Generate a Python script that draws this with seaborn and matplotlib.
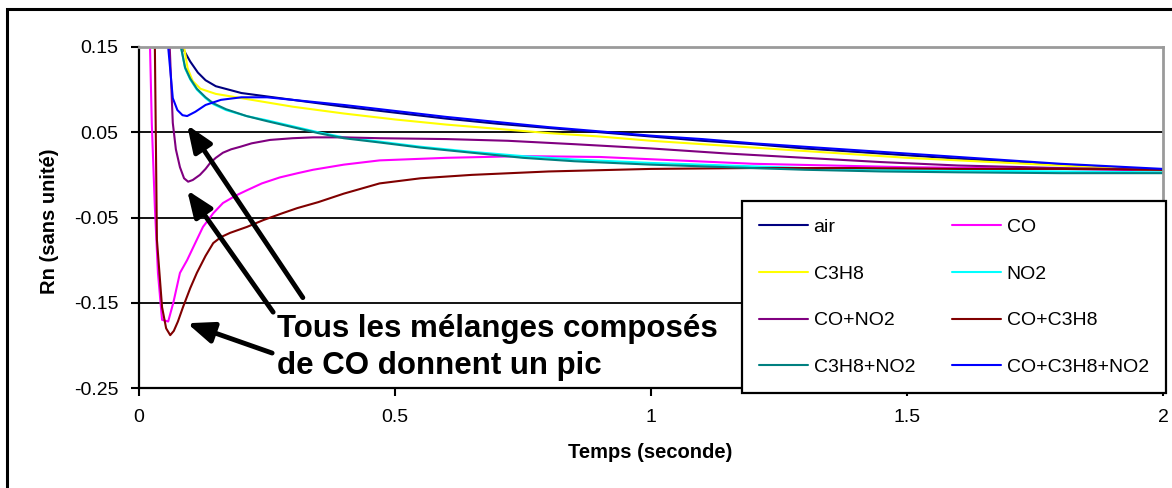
import pandas as pd
import matplotlib
matplotlib.use("Agg")
import matplotlib.pyplot as plt
import matplotlib.patches as mpatches
import seaborn as sns

# Rn (sans unité) en fonction du temps (s)
t_air = [0.075, 0.084, 0.1, 0.115, 0.13, 0.15, 0.2, 0.25, 0.3, 0.4, 0.5, 0.6, 0.7, 0.8, 0.9,
         1.0, 1.1, 1.2, 1.3, 1.4, 1.5, 1.6, 1.7, 1.8, 1.9, 2.0]
rn_air = [0.25, 0.15, 0.133, 0.12, 0.111, 0.104, 0.096, 0.092, 0.088, 0.080, 0.073, 0.066, 0.060,
          0.055, 0.050, 0.045, 0.040, 0.036, 0.031, 0.027, 0.023, 0.019, 0.016, 0.012, 0.009, 0.006]

t_co = [0.018, 0.0215, 0.025, 0.031, 0.037, 0.045, 0.057, 0.067, 0.08, 0.094, 0.113, 0.125, 0.145,
        0.164, 0.19, 0.211, 0.24, 0.275, 0.31, 0.34, 0.4, 0.47, 0.6, 0.75, 0.9, 1.05, 1.2, 1.35,
        1.5, 1.65, 1.8, 2.0]
rn_co = [0.3, 0.15, 0.06, -0.038, -0.115, -0.17, -0.172, -0.15, -0.115, -0.100, -0.076, -0.061,
         -0.045, -0.033, -0.024, -0.018, -0.010, -0.003, 0.002, 0.006, 0.012, 0.017, 0.020, 0.022,
         0.021, 0.017, 0.013, 0.011, 0.009, 0.008, 0.007, 0.005]

t_c3h8 = [0.08, 0.088, 0.095, 0.105, 0.12, 0.15, 0.2, 0.25, 0.3, 0.4, 0.5, 0.6, 0.7, 0.8, 0.9,
          1.0, 1.1, 1.2, 1.3, 1.4, 1.5, 1.6, 1.7, 1.8, 1.9, 2.0]
rn_c3h8 = [0.22, 0.15, 0.125, 0.110, 0.101, 0.095, 0.090, 0.085, 0.080, 0.072, 0.065, 0.059, 0.054,
           0.049, 0.045, 0.040, 0.036, 0.032, 0.028, 0.024, 0.020, 0.017, 0.014, 0.011, 0.008, 0.005]

t_no2 = [0.075, 0.082, 0.09, 0.1, 0.113, 0.13, 0.145, 0.17, 0.21, 0.25, 0.3, 0.35, 0.4, 0.47, 0.55,
         0.65, 0.75, 0.85, 1.0, 1.15, 1.3, 1.45, 1.6, 1.8, 2.0]
rn_no2 = [0.22, 0.15, 0.125, 0.112, 0.100, 0.090, 0.083, 0.076, 0.069, 0.064, 0.057, 0.050, 0.044,
          0.039, 0.033, 0.027, 0.022, 0.018, 0.014, 0.011, 0.008, 0.006, 0.005, 0.004, 0.003]

t_co_no2 = [0.055, 0.06, 0.066, 0.072, 0.08, 0.088, 0.096, 0.105, 0.119, 0.13, 0.139, 0.15, 0.164,
            0.18, 0.198, 0.22, 0.256, 0.3, 0.34, 0.4, 0.47, 0.6, 0.72, 0.85, 1.0, 1.15, 1.3, 1.45,
            1.6, 1.8, 2.0]
rn_co_no2 = [0.3, 0.15, 0.061, 0.03, 0.009, -0.004, -0.008, -0.006, 0.0, 0.007, 0.014, 0.020, 0.026,
             0.030, 0.033, 0.037, 0.041, 0.043, 0.044, 0.044, 0.043, 0.042, 0.040, 0.036, 0.031,
             0.025, 0.020, 0.015, 0.011, 0.008, 0.006]

t_co_c3h8 = [0.028, 0.031, 0.035, 0.045, 0.053, 0.061, 0.068, 0.076, 0.086, 0.1, 0.113, 0.13, 0.145,
             0.16, 0.178, 0.211, 0.243, 0.28, 0.309, 0.35, 0.4, 0.47, 0.55, 0.65, 0.8, 1.0, 1.2,
             1.4, 1.6, 1.8, 2.0]
rn_co_c3h8 = [0.25, 0.15, -0.076, -0.155, -0.18, -0.188, -0.183, -0.172, -0.155, -0.133, -0.115,
              -0.095, -0.080, -0.073, -0.068, -0.061, -0.053, -0.045, -0.039, -0.032, -0.022,
              -0.010, -0.004, 0.000, 0.004, 0.007, 0.008, 0.008, 0.007, 0.007, 0.006]

t_c3h8_no2 = [0.075, 0.082, 0.09, 0.1, 0.113, 0.13, 0.145, 0.17, 0.21, 0.25, 0.3, 0.35, 0.4, 0.47,
              0.55, 0.65, 0.75, 0.85, 1.0, 1.15, 1.3, 1.45, 1.6, 1.8, 2.0]
rn_c3h8_no2 = [0.22, 0.15, 0.126, 0.113, 0.101, 0.091, 0.084, 0.077, 0.069, 0.063, 0.056, 0.049,
               0.043, 0.038, 0.032, 0.026, 0.020, 0.016, 0.012, 0.009, 0.006, 0.004, 0.003, 0.002,
               0.002]

t_all = [0.05, 0.057, 0.066, 0.075, 0.085, 0.094, 0.11, 0.13, 0.16, 0.2, 0.25, 0.3, 0.4, 0.5, 0.6,
         0.7, 0.8, 0.9, 1.0, 1.1, 1.2, 1.3, 1.4, 1.5, 1.6, 1.7, 1.8, 1.9, 2.0]
rn_all = [0.3, 0.15, 0.09, 0.076, 0.070, 0.069, 0.074, 0.082, 0.088, 0.091, 0.091, 0.088, 0.082,
          0.075, 0.068, 0.062, 0.056, 0.051, 0.046, 0.042, 0.037, 0.033, 0.029, 0.025, 0.021,
          0.017, 0.013, 0.010, 0.007]

series = ["air", "CO", "C3H8", "NO2", "CO+NO2", "CO+C3H8", "C3H8+NO2", "CO+C3H8+NO2"]
colors = ["#000080", "#FF00FF", "#FFFF00", "#00FFFF", "#800080", "#800000", "#008080", "#0000FF"]
data = [(t_air, rn_air), (t_co, rn_co), (t_c3h8, rn_c3h8), (t_no2, rn_no2),
        (t_co_no2, rn_co_no2), (t_co_c3h8, rn_co_c3h8), (t_c3h8_no2, rn_c3h8_no2),
        (t_all, rn_all)]

df = pd.concat([pd.DataFrame({"Temps": t, "Rn": r, "gaz": name})
                for name, (t, r) in zip(series, data)], ignore_index=True)

sns.set_style("white")
plt.rcParams["font.family"] = ["Liberation Sans", "DejaVu Sans"]
plt.rcParams["axes.unicode_minus"] = False
for key in ["text.color", "axes.labelcolor", "xtick.color", "ytick.color"]:
    plt.rcParams[key] = "black"

fig = plt.figure(figsize=(11.72, 4.88), dpi=100)
ax = fig.add_axes([0.1186, 0.2049, 0.8737, 0.6988])

# grille horizontale noire
for yg in [0.05, -0.05, -0.15]:
    ax.axhline(yg, color="black", lw=1.3, zorder=1)

sns.lineplot(data=df, x="Temps", y="Rn", hue="gaz", hue_order=series,
             palette=dict(zip(series, colors)), estimator=None, sort=True,
             lw=1.5, ax=ax, zorder=2)

ax.set_xlim(0, 2)
ax.set_ylim(-0.25, 0.15)
ax.set_xticks([0, 0.5, 1, 1.5, 2])
ax.set_xticklabels(["0", "0.5", "1", "1.5", "2"])
ax.set_yticks([0.15, 0.05, -0.05, -0.15, -0.25])
ax.set_yticklabels(["0.15", "0.05", "-0.05", "-0.15", "-0.25"])
ax.tick_params(direction="out", length=6, width=1.5, color="black", labelcolor="black",
               labelsize=14, pad=9, left=True, bottom=True)

for s in ["left", "bottom"]:
    ax.spines[s].set_color("black")
    ax.spines[s].set_linewidth(1.6)
for s in ["top", "right"]:
    ax.spines[s].set_color("#9a9a9a")
    ax.spines[s].set_linewidth(2)

ax.set_xlabel("Temps (seconde)", fontsize=14.5, fontweight="bold", color="black")
ax.set_ylabel("Rn (sans unité)", fontsize=14.5, fontweight="bold", color="black")
ax.xaxis.set_label_coords(0.499, -0.162)
ax.yaxis.set_label_coords(-0.078, 0.49)

# légende : ordre ligne par ligne comme dans Excel
handles, labels = ax.get_legend_handles_labels()
hmap = dict(zip(labels, handles))
order = ["air", "C3H8", "CO+NO2", "C3H8+NO2", "CO", "NO2", "CO+C3H8", "CO+C3H8+NO2"]
leg = ax.legend([hmap[k] for k in order], order, ncol=2, loc="upper left",
                bbox_to_anchor=(0.5889, -0.0147, 0.414, 0.563), mode="expand",
                borderaxespad=0, fontsize=14, handlelength=2.5, handletextpad=0.3,
                labelspacing=1.5, borderpad=0.88, frameon=True, fancybox=False,
                framealpha=1, edgecolor="black")
leg.get_frame().set_linewidth(1.6)
leg.set_zorder(5)

# annotation et flèches
ax.text(0.27, -0.202, "Tous les mélanges composés\nde CO donnent un pic",
        fontsize=22.5, fontweight="bold", ha="left", va="center", linespacing=1.3,
        color="black", zorder=6)
arrows = [((0.094, 0.0585), (0.320, -0.144)),
          ((0.094, -0.018), (0.262, -0.161)),
          ((0.094, -0.174), (0.260, -0.209))]
for head, tail in arrows:
    ax.annotate("", xy=head, xytext=tail, zorder=6,
                arrowprops=dict(arrowstyle="-|>,head_length=0.8,head_width=0.32",
                                mutation_scale=20, lw=3.5, color="black",
                                shrinkA=0, shrinkB=0))

# cadre extérieur
fig.patches.append(mpatches.Rectangle((0.006, -0.1), 1.2, 1.0816, transform=fig.transFigure,
                                      fill=False, lw=2.2, ec="black"))

fig.savefig("out.png", dpi=100)
